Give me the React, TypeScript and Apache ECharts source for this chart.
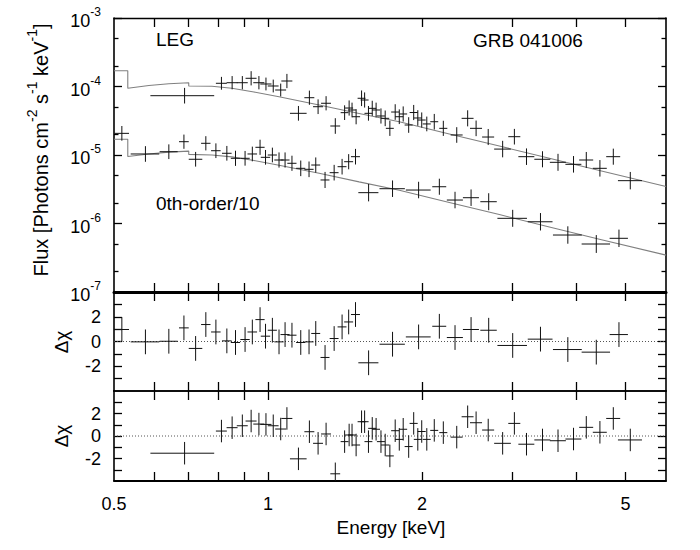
import React, { useEffect, useRef } from 'react';
import * as echarts from 'echarts';

const FONT = 'Liberation Sans, Arial, Helvetica, sans-serif';

// ---- tick values ----
const xTickValues = [0.6, 0.7, 0.8, 0.9, 1, 2, 3, 4, 5];
const xLabelValues = [0.5, 1, 2, 5];
const fluxMajorTicks = [1e-7, 1e-6, 1e-5, 1e-4, 1e-3];
const fluxMinorTicks = [2e-7, 5e-7, 2e-6, 5e-6, 2e-5, 5e-5, 2e-4, 5e-4];
const residTicks = [-3, -2, -1, 0, 1, 2, 3];
const residLabels = [-2, 0, 2];

// ---- LEG (first-order) spectrum ----
const legEnergy = [0.687, 0.811, 0.851, 0.891, 0.927, 0.960, 0.991, 1.024, 1.059, 1.089, 1.147, 1.205, 1.253, 1.299, 1.354, 1.412, 1.441, 1.460, 1.487, 1.524, 1.545, 1.572, 1.599, 1.627, 1.663, 1.695, 1.731, 1.773, 1.806, 1.838, 1.884, 1.927, 1.963, 1.998, 2.044, 2.114, 2.202, 2.339, 2.457, 2.552, 2.695, 2.876, 3.032, 3.202, 3.441, 3.690, 3.957, 4.191, 4.456, 4.733, 5.109];
const legEnergyErr = [0.098, 0.020, 0.021, 0.022, 0.023, 0.024, 0.025, 0.025, 0.026, 0.027, 0.043, 0.027, 0.028, 0.029, 0.030, 0.025, 0.026, 0.026, 0.027, 0.027, 0.028, 0.028, 0.029, 0.029, 0.030, 0.031, 0.031, 0.032, 0.033, 0.033, 0.034, 0.035, 0.035, 0.036, 0.037, 0.038, 0.040, 0.063, 0.066, 0.069, 0.073, 0.108, 0.082, 0.115, 0.124, 0.133, 0.142, 0.132, 0.140, 0.149, 0.276];
const legFlux = [7.34e-5, 1.114e-4, 1.136e-4, 1.136e-4, 1.318e-4, 1.136e-4, 1.088e-4, 1.017e-4, 8.89e-5, 1.203e-4, 4.06e-5, 6.86e-5, 5.07e-5, 5.69e-5, 2.65e-5, 4.15e-5, 4.85e-5, 4.54e-5, 3.62e-5, 6.73e-5, 6.35e-5, 4.06e-5, 4.80e-5, 4.54e-5, 3.71e-5, 3.43e-5, 2.45e-5, 4.24e-5, 3.62e-5, 3.97e-5, 2.74e-5, 4.17e-5, 3.47e-5, 3.24e-5, 2.84e-5, 3.06e-5, 2.45e-5, 1.96e-5, 3.43e-5, 2.45e-5, 1.83e-5, 1.22e-5, 1.85e-5, 9.45e-6, 8.66e-6, 7.82e-6, 7.31e-6, 8.45e-6, 6.39e-6, 9.45e-6, 4.22e-6];
const legFluxRelErr = [0.30, 0.24, 0.25, 0.25, 0.27, 0.25, 0.24, 0.24, 0.24, 0.27, 0.28, 0.27, 0.28, 0.27, 0.30, 0.28, 0.29, 0.28, 0.29, 0.30, 0.29, 0.28, 0.29, 0.28, 0.29, 0.30, 0.29, 0.30, 0.28, 0.29, 0.30, 0.29, 0.30, 0.29, 0.28, 0.30, 0.29, 0.30, 0.31, 0.30, 0.31, 0.32, 0.30, 0.32, 0.31, 0.33, 0.32, 0.31, 0.32, 0.31, 0.34];
const legResidual = [-1.53, 0.44, 0.74, 0.91, 1.33, 1.06, 1.03, 0.91, 0.62, 1.56, -2.03, 0.38, -0.65, 0.18, -3.36, -0.5, 0.09, 0.09, -0.8, 1.27, 1.27, -0.5, 0.68, 0.6, -0.5, -0.8, -1.77, 0.47, -0.3, 0.6, -0.94, 1.12, -0.3, 0.4, -0.3, 0.5, 0.3, -0.1, 1.71, 1.18, 0.53, -0.65, 1.12, -0.73, -0.35, -0.42, -0.27, 0.77, 0.33, 1.56, -0.35];

// ---- zeroth-order spectrum (divided by 10) ----
const zerothEnergy = [0.518, 0.576, 0.640, 0.685, 0.722, 0.756, 0.791, 0.831, 0.864, 0.902, 0.932, 0.965, 0.989, 1.020, 1.051, 1.080, 1.114, 1.159, 1.203, 1.240, 1.293, 1.347, 1.396, 1.438, 1.483, 1.573, 1.752, 1.970, 2.163, 2.321, 2.495, 2.701, 3.009, 3.410, 3.857, 4.384, 4.855];
const zerothEnergyErr = [0.017, 0.037, 0.026, 0.015, 0.022, 0.016, 0.017, 0.018, 0.018, 0.019, 0.020, 0.020, 0.021, 0.021, 0.022, 0.022, 0.023, 0.024, 0.025, 0.025, 0.026, 0.027, 0.028, 0.029, 0.030, 0.071, 0.100, 0.110, 0.068, 0.084, 0.090, 0.100, 0.200, 0.190, 0.250, 0.280, 0.200];
const zerothFlux = [2.07e-5, 1.035e-5, 1.117e-5, 1.564e-5, 8.66e-6, 1.482e-5, 1.155e-5, 1.059e-5, 8.95e-6, 8.95e-6, 1.035e-5, 1.295e-5, 9.25e-6, 1.0e-5, 8.45e-6, 8.45e-6, 7.57e-6, 6.39e-6, 6.18e-6, 7.14e-6, 4.32e-6, 5.52e-6, 6.75e-6, 7.98e-6, 9.45e-6, 2.82e-6, 3.22e-6, 3.08e-6, 3.44e-6, 2.20e-6, 2.38e-6, 2.08e-6, 1.19e-6, 1.06e-6, 6.79e-7, 5.02e-7, 6.08e-7];
const zerothFluxRelErr = [0.28, 0.30, 0.28, 0.27, 0.28, 0.27, 0.28, 0.28, 0.29, 0.28, 0.28, 0.29, 0.28, 0.28, 0.29, 0.29, 0.29, 0.30, 0.30, 0.29, 0.31, 0.30, 0.30, 0.29, 0.30, 0.34, 0.32, 0.32, 0.31, 0.32, 0.32, 0.33, 0.33, 0.34, 0.34, 0.35, 0.34];
const zerothResidual = [0.97, -0.03, 0.02, 1.1, -0.56, 1.37, 0.77, 0.05, -0.08, 0.16, 0.77, 1.77, 0.43, 0.91, -0.03, 0.56, 0.51, -0.08, -0.03, 0.65, -1.29, 0.24, 1.18, 1.58, 2.18, -1.72, -0.22, 0.37, 1.23, 0.32, 0.97, 0.91, -0.32, 0.19, -0.65, -0.86, 0.56];

// ---- best-fit model curves ----
const modelEnergy = [0.5, 0.532, 0.532, 0.585, 0.640, 0.700, 0.700, 0.777, 0.850, 0.939, 1.051, 1.259, 1.507, 1.806, 2.262, 2.833, 3.549, 4.446, 6.0];
const modelLeg = [1.70e-4, 1.70e-4, 9.42e-5, 1.035e-4, 1.099e-4, 1.136e-4, 1.016e-4, 1.007e-4, 9.42e-5, 8.32e-5, 7.10e-5, 5.37e-5, 4.04e-5, 3.06e-5, 2.03e-5, 1.35e-5, 8.95e-6, 5.94e-6, 3.46e-6];
const modelZeroth = [1.70e-5, 1.70e-5, 9.5e-6, 1.035e-5, 1.10e-5, 1.14e-5, 1.02e-5, 1.0e-5, 9.4e-6, 8.3e-6, 7.1e-6, 5.4e-6, 4.05e-6, 3.06e-6, 2.03e-6, 1.35e-6, 8.9e-7, 5.9e-7, 3.45e-7];

const GRID_LEFT = 114;
const GRID_W = 552;

function errRender(params: any, api: any) {
  const e = api.value(0);
  const de = api.value(1);
  const v = api.value(2);
  const lo = api.value(3);
  const hi = api.value(4);
  const l = api.coord([e - de, v]);
  const r = api.coord([e + de, v]);
  const b = api.coord([e, lo]);
  const t = api.coord([e, hi]);
  const style = { stroke: '#111', lineWidth: 1, fill: null };
  return {
    type: 'group',
    children: [
      { type: 'line', shape: { x1: l[0], y1: l[1], x2: r[0], y2: r[1] }, style },
      { type: 'line', shape: { x1: b[0], y1: b[1], x2: t[0], y2: t[1] }, style },
    ],
  };
}

function xAxisDef(gridIndex: number, position: string, showLabels: boolean, lineWidth: number) {
  return {
    type: 'log',
    logBase: 10,
    gridIndex,
    position,
    min: 0.5,
    max: 6,
    axisLine: { show: true, onZero: false, lineStyle: { color: '#000', width: lineWidth } },
    axisTick: { show: true, inside: true, length: 9, customValues: xTickValues, lineStyle: { color: '#000', width: 1.3 } },
    axisLabel: {
      show: showLabels,
      customValues: xLabelValues,
      formatter: (v: number) => String(Math.round(v * 10) / 10),
      color: '#000',
      fontSize: 18,
      fontFamily: FONT,
      margin: 14,
    },
    splitLine: { show: false },
    minorTick: { show: false },
  };
}

function fluxAxis(position: string, ticks: number[], len: number, labels: boolean, line: boolean) {
  return {
    type: 'log',
    logBase: 10,
    gridIndex: 0,
    position,
    min: 1e-7,
    max: 1e-3,
    axisLine: { show: line, onZero: false, lineStyle: { color: '#000', width: 1.6 } },
    axisTick: { show: true, inside: true, length: len, customValues: ticks, lineStyle: { color: '#000', width: 1.3 } },
    axisLabel: {
      show: labels,
      customValues: fluxMajorTicks,
      formatter: (v: number) => '{b|10}{s|' + Math.round(Math.log10(v)) + '}',
      margin: 13,
      rich: {
        b: { fontSize: 18, fontFamily: FONT, color: '#000', lineHeight: 24, verticalAlign: 'bottom' },
        s: { fontSize: 12, fontFamily: FONT, color: '#000', lineHeight: 12, verticalAlign: 'top' },
      },
    },
    splitLine: { show: false },
    minorTick: { show: false },
  };
}

function residAxis(gridIndex: number, position: string, labels: boolean) {
  return {
    type: 'value',
    gridIndex,
    position,
    min: -4,
    max: 4,
    axisLine: { show: true, onZero: false, lineStyle: { color: '#000', width: 1.6 } },
    axisTick: { show: true, inside: true, length: 8, customValues: residTicks, lineStyle: { color: '#000', width: 1.3 } },
    axisLabel: {
      show: labels,
      customValues: residLabels,
      color: '#000',
      fontSize: 18,
      fontFamily: FONT,
      margin: 13,
    },
    splitLine: { show: false },
  };
}

function buildOption() {
  const legPts = legEnergy.map((e, i) => [e, legEnergyErr[i], legFlux[i], legFlux[i] / (1 + legFluxRelErr[i]), legFlux[i] * (1 + legFluxRelErr[i])]);
  const zerothPts = zerothEnergy.map((e, i) => [e, zerothEnergyErr[i], zerothFlux[i], zerothFlux[i] / (1 + zerothFluxRelErr[i]), zerothFlux[i] * (1 + zerothFluxRelErr[i])]);
  const legRes = legEnergy.map((e, i) => [e, legEnergyErr[i], legResidual[i], legResidual[i] - 1, legResidual[i] + 1]);
  const zerothRes = zerothEnergy.map((e, i) => [e, zerothEnergyErr[i], zerothResidual[i], zerothResidual[i] - 1, zerothResidual[i] + 1]);

  const errSeries = (xi: number, yi: number, data: number[][]) => ({
    type: 'custom',
    xAxisIndex: xi,
    yAxisIndex: yi,
    renderItem: errRender,
    data,
    encode: { x: [0], y: [2, 3, 4] },
    silent: true,
    clip: true,
    z: 3,
  });
  const modelSeries = (vals: number[]) => ({
    type: 'line',
    xAxisIndex: 0,
    yAxisIndex: 0,
    data: modelEnergy.map((e, i) => [e, vals[i]]),
    showSymbol: false,
    symbol: 'none',
    silent: true,
    lineStyle: { color: '#808080', width: 1.1 },
    z: 2,
  });
  const zeroLine = (xi: number, yi: number) => ({
    type: 'line',
    xAxisIndex: xi,
    yAxisIndex: yi,
    data: [[0.5, 0], [6, 0]],
    showSymbol: false,
    symbol: 'none',
    silent: true,
    lineStyle: { color: '#555', width: 1, type: [1, 2] },
    z: 1,
  });

  const txt = (text: string, x: number, y: number, extra: any = {}) => ({
    type: 'text',
    x,
    y,
    silent: true,
    style: { text, fontSize: 19, fontFamily: FONT, fill: '#000', align: 'left', verticalAlign: 'middle', ...extra },
  });

  return {
    animation: false,
    backgroundColor: '#fff',
    grid: [
      { left: GRID_LEFT, top: 18, width: GRID_W, height: 274 },
      { left: GRID_LEFT, top: 292, width: GRID_W, height: 99 },
      { left: GRID_LEFT, top: 391, width: GRID_W, height: 90 },
    ],
    xAxis: [
      xAxisDef(0, 'bottom', false, 3),
      xAxisDef(0, 'top', false, 1.4),
      xAxisDef(1, 'bottom', false, 1.6),
      xAxisDef(1, 'top', false, 1.6),
      xAxisDef(2, 'bottom', true, 1.8),
      xAxisDef(2, 'top', false, 1.6),
    ],
    yAxis: [
      fluxAxis('left', fluxMajorTicks, 8, true, true),
      fluxAxis('left', fluxMinorTicks, 4.5, false, false),
      fluxAxis('right', fluxMajorTicks, 8, false, true),
      fluxAxis('right', fluxMinorTicks, 4.5, false, false),
      residAxis(1, 'left', true),
      residAxis(1, 'right', false),
      residAxis(2, 'left', true),
      residAxis(2, 'right', false),
    ],
    series: [
      modelSeries(modelLeg),
      modelSeries(modelZeroth),
      errSeries(0, 0, legPts),
      errSeries(0, 0, zerothPts),
      zeroLine(2, 4),
      zeroLine(4, 6),
      errSeries(2, 4, zerothRes),
      errSeries(4, 6, legRes),
    ],
    graphic: [
      txt('LEG', 156, 39),
      txt('GRB 041006', 473, 40),
      txt('0th-order/10', 156, 203),
      {
        type: 'text',
        x: 38,
        y: 150,
        rotation: Math.PI / 2,
        silent: true,
        style: {
          text: '{b|Flux [Photons cm}{s|-2}{b| s}{s|-1}{b| keV}{s|-1}{b|]}',
          align: 'center',
          verticalAlign: 'middle',
          rich: {
            b: { fontSize: 20, fontFamily: FONT, fill: '#000', lineHeight: 26, verticalAlign: 'bottom' },
            s: { fontSize: 14, fontFamily: FONT, fill: '#000', lineHeight: 14, verticalAlign: 'top' },
          },
        },
      },
      txt('\u0394\u03c7', 61, 342, { align: 'center', fontSize: 19 }),
      txt('\u0394\u03c7', 61, 436, { align: 'center', fontSize: 19 }),
      txt('Energy [keV]', 391, 527, { align: 'center' }),
    ].map((g: any) => (g.style && g.style.text === '\u0394\u03c7' ? { ...g, rotation: Math.PI / 2 } : g)),
  };
}

export default function App() {
  const ref = useRef<HTMLDivElement>(null);
  useEffect(() => {
    if (!ref.current) return;
    const chart = echarts.init(ref.current, null, { renderer: 'svg' });
    chart.setOption(buildOption() as any);
    return () => chart.dispose();
  }, []);
  return (
    <div
      ref={ref}
      style={{ position: 'fixed', left: 0, top: 0, width: 700, height: 550, background: '#fff' }}
    />
  );
}
